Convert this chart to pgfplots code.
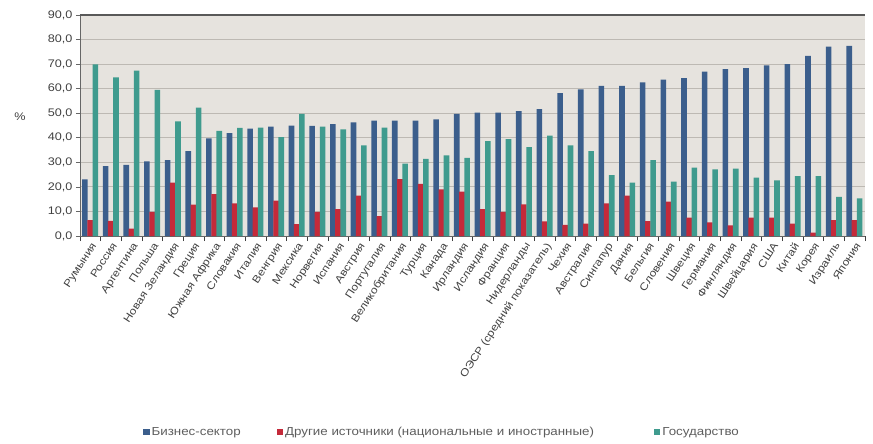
\documentclass[border=0pt]{standalone}
\usepackage{fontspec}
\setmainfont{Liberation Sans}[FakeStretch=1.15]
\usepackage{pgfplots}
\usepackage{pgfplotstable}
\pgfplotsset{compat=1.18}
\definecolor{cblue}{HTML}{3B5E8C}
\definecolor{cred}{HTML}{C42A3A}
\definecolor{cteal}{HTML}{3F9B8E}
\definecolor{bgcol}{HTML}{E6E3DE}
\definecolor{gridcol}{HTML}{BDB9B3}
\definecolor{txt}{HTML}{404040}
\pgfplotstableread{
x b o g
0 23.1 6.5 69.9
1 28.5 6.2 64.6
2 29.0 3.0 67.3
3 30.4 9.8 59.5
4 30.9 21.7 46.7
5 34.6 12.8 52.3
6 39.8 17.1 42.8
7 41.9 13.3 44.0
8 43.7 11.7 44.1
9 44.5 14.4 40.3
10 45.0 4.8 49.7
11 44.8 9.8 44.5
12 45.6 10.9 43.4
13 46.3 16.4 36.9
14 47.0 8.1 44.1
15 47.0 23.2 29.5
16 47.0 21.2 31.4
17 47.5 19.0 32.8
18 49.7 18.1 31.8
19 50.2 10.9 38.6
20 50.2 9.8 39.5
21 50.9 12.9 36.2
22 51.7 6.0 40.9
23 58.2 4.5 36.9
24 59.7 5.0 34.6
25 61.1 13.3 24.8
26 61.1 16.4 21.7
27 62.6 6.1 30.9
28 63.7 14.0 22.1
29 64.3 7.5 27.8
30 66.9 5.6 27.1
31 68.0 4.3 27.4
32 68.4 7.5 23.8
33 69.5 7.5 22.7
34 70.0 5.0 24.4
35 73.4 1.4 24.4
36 77.1 6.5 15.9
37 77.4 6.5 15.3
}\datatable
\begin{document}
\begin{tikzpicture}
\useasboundingbox (-80pt,-208pt) rectangle (793pt,236pt);
\begin{axis}[
  at={(0pt,0pt)}, anchor=south west,
  scale only axis, width=785pt, height=221pt,
  xmin=-0.5, xmax=37.5, ymin=0, ymax=90,
  axis background/.style={fill=bgcol},
  axis x line*=bottom, axis y line*=left,
  axis line style={draw=gray!80!black, line width=0.8pt},
  x axis line style={-}, y axis line style={-},
  xtick={0,...,37},
  xticklabels={Румыния, Россия, Аргентина, Польша, Новая Зеландия, Греция, Южная Африка, Словакия, Италия, Венгрия, Мексика, Норвегия, Испания, Австрия, Португалия, Великобритания, Турция, Канада, Ирландия, Исландия, Франция, Нидерланды, ОЭСР (средний показатель), Чехия, Австралия, Сингапур, Дания, Бельгия, Словения, Швеция, Германия, Финляндия, Швейцария, США, Китай, Корея, Израиль, Япония},
  x tick style={draw=none},
  minor xtick={-0.5,0.5,...,37.5},
  minor x tick style={draw=txt, line width=0.6pt},
  minor tick length=5pt,
  tick align=outside,
  x tick label style={rotate=57, anchor=north east, inner sep=1pt, font=\fontsize{10.5}{12}\selectfont, text=txt},
  ytick={0,10,...,90},
  y tick style={draw=gray!80!black, line width=0.6pt},
  major tick length=4pt,
  ymajorgrids, grid style={draw=gridcol, line width=0.8pt},
  y tick label style={font=\fontsize{11}{13}\selectfont, text=txt},
  yticklabel style={/pgf/number format/.cd, fixed, fixed zerofill, precision=1, use comma, assume math mode=true},
  extra y ticks={90}, extra y tick labels={},
  extra y tick style={grid style={draw=gray!70!black, line width=1.6pt}, major tick length=0pt},
  ylabel={\%},
  ylabel style={rotate=-90, at={(axis description cs:-0.0764,0.538)}, anchor=center, font=\fontsize{11}{13}\selectfont, text=txt},
  bar width=5.6pt,
  legend columns=3,
  legend style={at={(0.0803,-0.887)}, anchor=west, draw=none, fill=none, inner sep=0pt, font=\fontsize{11.6}{13}\selectfont, text=txt!85, /tikz/every even column/.append style={column sep=34pt}},
  legend image code/.code={\fill[#1, draw=none] (0pt,-3.2pt) rectangle (6.4pt,3.2pt);},
]
\addplot[ybar, fill=cblue, draw=none, bar shift=-5.4pt] table[x=x, y=b] {\datatable};
\addplot[ybar, fill=cred, draw=none, bar shift=-0.2pt] table[x=x, y=o] {\datatable};
\addplot[ybar, fill=cteal, draw=none, bar shift=5pt] table[x=x, y=g] {\datatable};
\legend{Бизнес-сектор, Другие источники (национальные и иностранные)\hspace*{24pt}\mbox{}, Государство}
\end{axis}
\end{tikzpicture}
\end{document}
